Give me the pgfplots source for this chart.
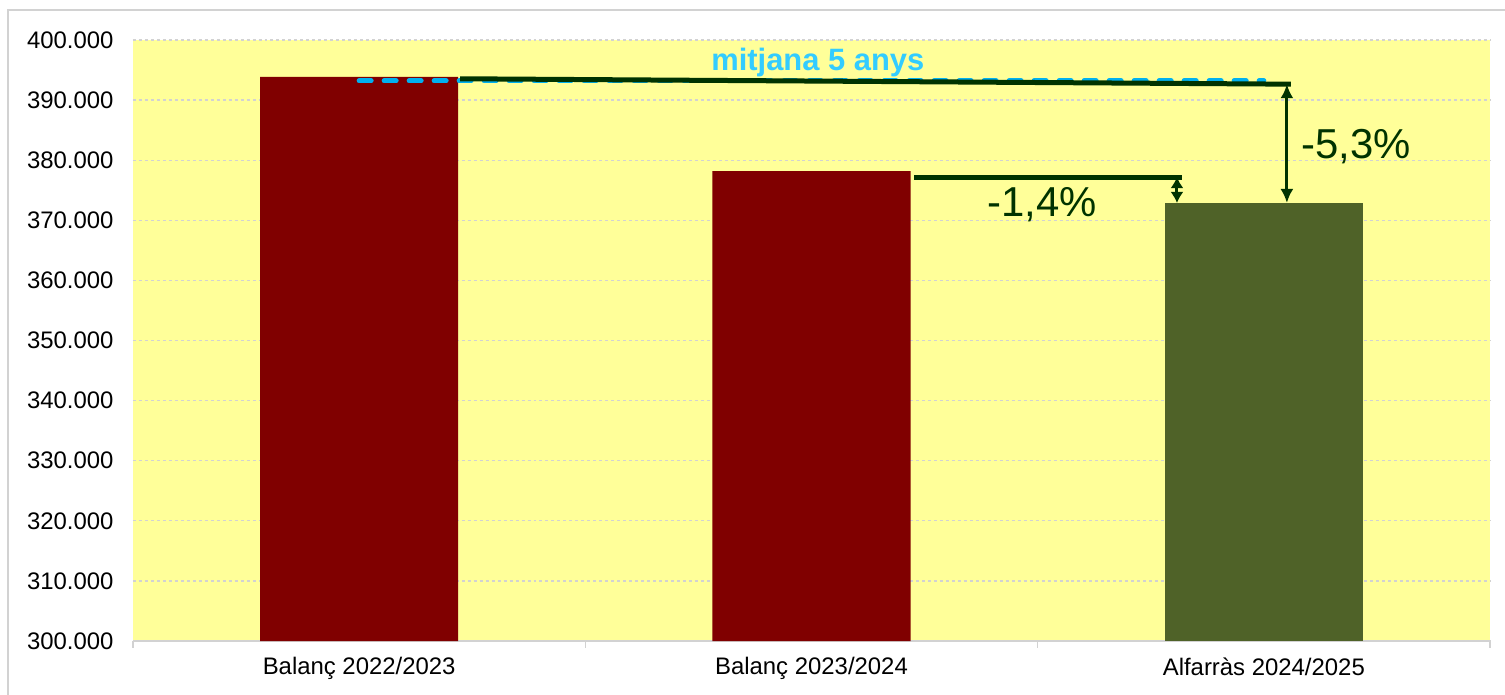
\documentclass[border=0pt]{standalone}
\usepackage{fontspec}
\setmainfont{Liberation Sans}
\usepackage{pgfplots}
\pgfplotsset{compat=1.18}
\usetikzlibrary{arrows.meta}
\definecolor{bgyellow}{RGB}{255,255,153}
\definecolor{barred}{RGB}{128,0,0}
\definecolor{barolive}{RGB}{79,98,40}
\definecolor{annot}{RGB}{0,51,0}
\definecolor{meanblue}{RGB}{0,176,240}
\definecolor{meantext}{RGB}{51,204,255}
\definecolor{gridgray}{RGB}{210,210,210}

\begin{document}
\begin{tikzpicture}
\useasboundingbox (-133bp,-54bp) rectangle (1372bp,641bp);
\draw[gridgray, line width=1.5bp] (-125bp,-60bp) rectangle (1380bp,631bp);
\begin{axis}[
    at={(0,0)}, anchor=south west,
    scale only axis, width=1357bp, height=601bp,
    xmin=-0.5, xmax=2.5, ymin=300000, ymax=400000,
    ytick distance=10000,
    scaled y ticks=false,
    xtick={0,1,2},
    xticklabels={Balanç 2022/2023, Balanç 2023/2024, Alfarràs 2024/2025},
    minor xtick={-0.5,0.5,1.5,2.5},
    major tick length=0pt,
    minor tick length=7bp,
    tick align=outside,
    minor x tick style={draw=gridgray, line width=1.5bp},
    axis x line*=bottom, axis y line*=left,
    x axis line style={draw=gridgray, line width=1.5bp, -},
    y axis line style={draw=none},
    ymajorgrids=true,
    grid style={dashed, gridgray, line width=1.3bp},
    axis background/.style={fill=bgyellow},
    tick label style={font=\fontsize{24}{28}\selectfont},
    /pgf/number format/.cd, fixed, precision=0, 1000 sep={.}, assume math mode=true,
    /pgfplots/.cd,
    yticklabel style={xshift=-16bp},
    xticklabel style={yshift=-13bp},
    clip=false,
]
\addplot[ybar, bar width=0.438, fill=barred, draw=none] coordinates {(0,393850) (1,378200)};
\addplot[ybar, bar width=0.438, fill=barolive, draw=none] coordinates {(2,372880)};
\addplot[meanblue, line width=5bp, dash pattern=on 12bp off 13bp, line cap=round] coordinates {(0,393200) (2,393200)};
\draw[annot, line width=5bp] (axis cs:0.223,393550) -- (axis cs:2.06,392650);
\draw[annot, line width=3bp, {Latex[length=14bp,width=13bp]}-{Latex[length=14bp,width=13bp]}] (axis cs:2.051,392650) -- (axis cs:2.051,372880);
\draw[annot, line width=5bp] (axis cs:1.227,377200) -- (axis cs:1.818,377200);
\draw[annot, line width=3bp, {Latex[length=11bp,width=13bp]}-{Latex[length=11bp,width=13bp]}] (axis cs:1.808,377200) -- (axis cs:1.808,372880);
\node[annot, anchor=west, font=\fontsize{42}{46}\selectfont] at (axis cs:2.075,382300) {-5,3\%};
\node[annot, font=\fontsize{42}{46}\selectfont] at (axis cs:1.51,372600) {-1,4\%};
\node[meantext, font=\fontsize{31}{35}\selectfont\bfseries] at (axis cs:1.014,396300) {mitjana 5 anys};
\end{axis}
\end{tikzpicture}
\end{document}
